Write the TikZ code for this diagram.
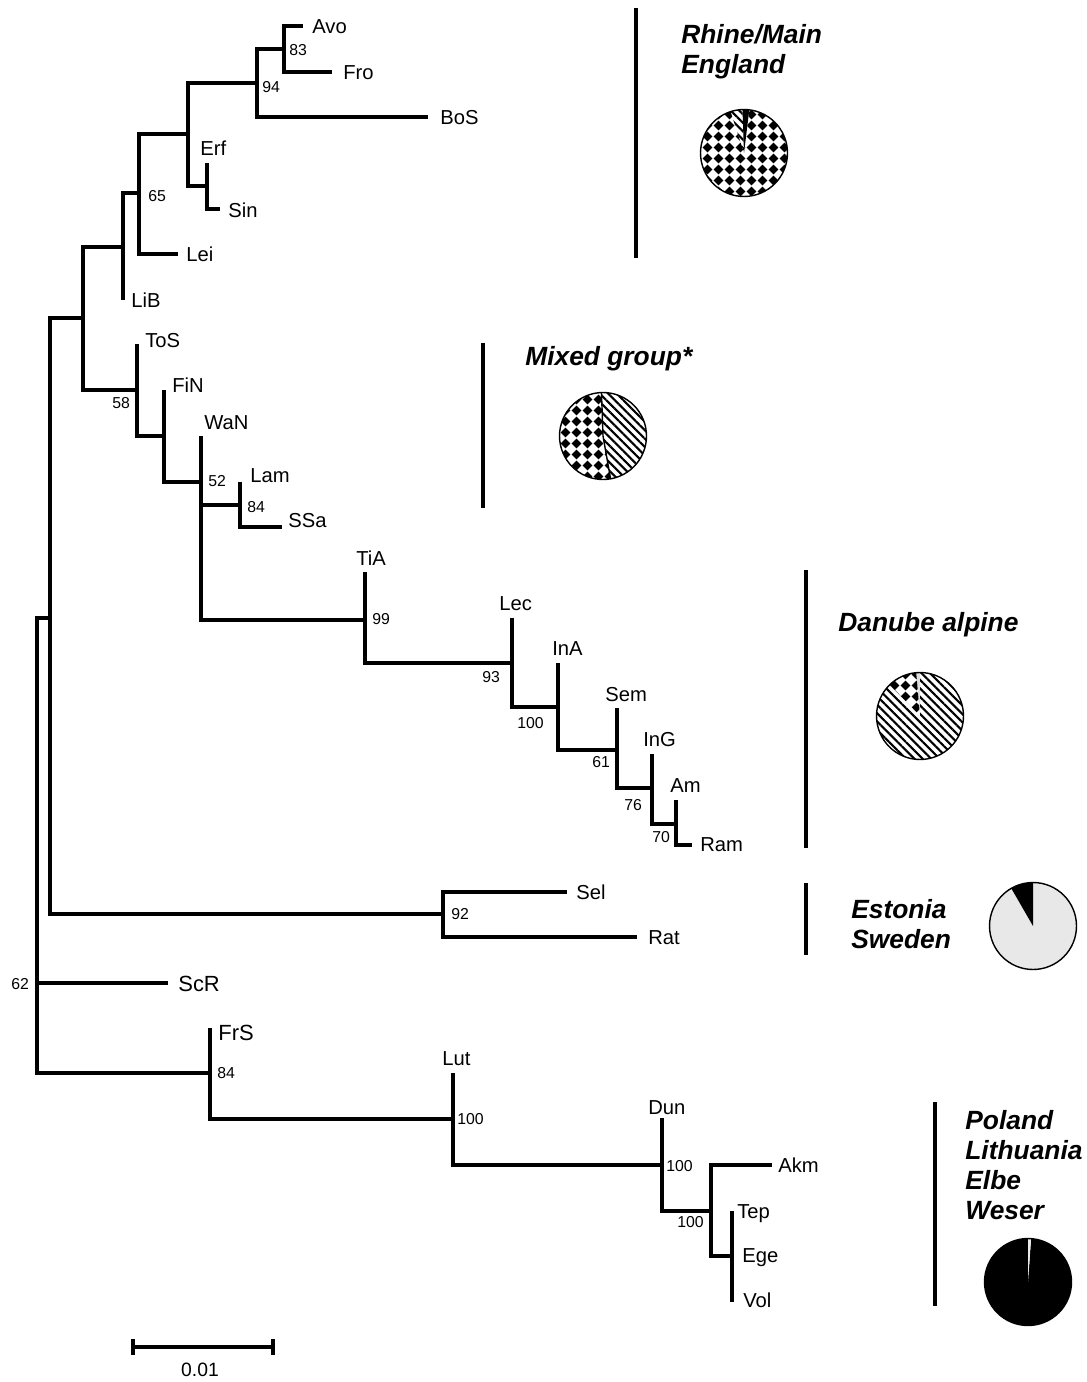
\documentclass[tikz,border=0pt]{standalone}
\usepackage{fontspec}
\setmainfont{Liberation Sans}
\usetikzlibrary{patterns,patterns.meta}
\pgfdeclarepatternformonly{diamonds}{\pgfqpoint{0pt}{0pt}}{\pgfqpoint{6.25pt}{6.25pt}}{\pgfqpoint{6.25pt}{6.25pt}}{%
  \pgfpathmoveto{\pgfqpoint{3.125pt}{0.3pt}}%
  \pgfpathlineto{\pgfqpoint{5.95pt}{3.125pt}}%
  \pgfpathlineto{\pgfqpoint{3.125pt}{5.95pt}}%
  \pgfpathlineto{\pgfqpoint{0.3pt}{3.125pt}}%
  \pgfpathclose\pgfusepathqfill}
\newcommand{\pieslice}[4]{\fill[#4] (#1) -- ++(#2:0.87cm) arc[start angle=#2, end angle=#3, radius=0.87cm] -- cycle;}
\begin{document}
\begin{tikzpicture}[x=0.02cm, y=0.02cm, line join=miter,
  tree/.style={line width=1.8pt},
  bar/.style={line width=2.6pt},
  pieline/.style={line width=0.8pt},
  taxon/.style={anchor=west, inner sep=0pt, text height=8.2pt, text depth=0pt, font=\fontsize{11.5}{13}\selectfont},
  bigtaxon/.style={taxon, text height=9pt, font=\fontsize{12.5}{14}\selectfont},
  boot/.style={anchor=west, inner sep=0pt, text height=6.4pt, text depth=0pt, font=\fontsize{9}{10}\selectfont},
  group/.style={anchor=west, inner sep=0pt, align=left, font=\fontsize{15}{17}\selectfont\bfseries\itshape},
  chk/.style={pattern=diamonds},
  hat/.style={pattern={Lines[angle=-45, distance=3.4pt, line width=1.2pt]}}]
\useasboundingbox (0,0) rectangle (1087,-1382);
% tips
\path (303,-26) coordinate (Avo) (332,-72) coordinate (Fro) (428,-117) coordinate (BoS)
      (207,-163) coordinate (Erf) (220,-209) coordinate (Sin) (178,-254) coordinate (Lei)
      (123,-300) coordinate (LiB) (137,-344) coordinate (ToS) (164,-390) coordinate (FiN)
      (201,-436) coordinate (WaN) (240,-482) coordinate (Lam) (282,-527) coordinate (SSa)
      (365,-572) coordinate (TiA) (512,-618) coordinate (Lec) (558,-663) coordinate (InA)
      (617,-708) coordinate (Sem) (652,-754) coordinate (InG) (676,-800) coordinate (Am)
      (692,-845) coordinate (Ram) (567,-892) coordinate (Sel) (637,-937) coordinate (Rat)
      (168,-983) coordinate (ScR) (210,-1028) coordinate (FrS) (453,-1073) coordinate (Lut)
      (662,-1118) coordinate (Dun) (772,-1165) coordinate (Akm) (732,-1211) coordinate (Tep)
      (732,-1256) coordinate (Ege) (732,-1302) coordinate (Vol);
% inner nodes
\path (284,-49) coordinate (nAF) (257,-83) coordinate (n94) (207,-186) coordinate (nES)
      (188,-134) coordinate (nA) (139,-193) coordinate (n65) (123,-247) coordinate (nB)
      (83,-318) coordinate (nC) (137,-390) coordinate (n58) (164,-436) coordinate (nF)
      (201,-482) coordinate (n52) (240,-505) coordinate (n84a) (365,-620) coordinate (n99)
      (512,-663) coordinate (n93) (558,-707) coordinate (n100a) (617,-750) coordinate (n61)
      (652,-788) coordinate (n76) (676,-824) coordinate (n70) (50,-618) coordinate (nD)
      (443,-914) coordinate (n92) (37,-983) coordinate (root) (210,-1073) coordinate (n84b)
      (453,-1119) coordinate (n100b) (662,-1165) coordinate (n100c) (711,-1211) coordinate (n100d)
      (732,-1256) coordinate (nTEV);
\foreach \p/\c in {nAF/Avo,nAF/Fro,n94/nAF,n94/BoS,nES/Erf,nES/Sin,nA/n94,nA/nES,n65/nA,n65/Lei,
  nB/n65,nB/LiB,nC/nB,nC/n58,n58/ToS,n58/nF,nF/FiN,nF/n52,n52/WaN,n52/n84a,n52/n99,n84a/Lam,n84a/SSa,
  n99/TiA,n99/n93,n93/Lec,n93/n100a,n100a/InA,n100a/n61,n61/Sem,n61/n76,n76/InG,n76/n70,n70/Am,n70/Ram,
  nD/nC,nD/n92,n92/Sel,n92/Rat,root/nD,root/ScR,root/n84b,n84b/FrS,n84b/n100b,n100b/Lut,n100b/n100c,
  n100c/Dun,n100c/n100d,n100d/Akm,n100d/nTEV,nTEV/Tep,nTEV/Vol}
  \draw[tree] (\p) |- (\c);
% taxon labels
\foreach \t/\x/\y in {Avo/312/26,Fro/343/72,BoS/440/117,Erf/200/148,Sin/228/210,Lei/186/254,
  LiB/131/300,ToS/145/340,FiN/172/385,WaN/204/422,Lam/250/475,SSa/288/520,TiA/356/558,Lec/499/603,
  InA/552/648,Sem/605/694,InG/643/739,Am/670/785,Ram/700/844,Sel/576/892,Rat/648/937,Lut/442/1058,
  Dun/648/1107,Akm/778/1165,Tep/737/1211,Ege/742/1255,Vol/743/1300}
  \node[taxon] (l\t) at (\x,-\y) {\t};
\node[bigtaxon] (lScR) at (178,-984) {ScR};
\node[bigtaxon] (lFrS) at (218,-1033) {FrS};
% bootstrap values
\foreach \v/\x/\y [count=\i] in {83/289/50,94/262/87,65/148/196,58/112/403,52/208/481,84/247/507,
  99/372/619,93/482/677,100/517/723,61/592/762,76/624/805,70/652/837,92/451/914,62/11/984,
  84/217/1073,100/457/1119,100/666/1166,100/677/1222}
  \node[boot] (b\i) at (\x,-\y) {\v};
% scale bar
\coordinate (sbL) at (133,-1347);
\coordinate (sbR) at (273,-1347);
\draw[tree] (sbL) -- (sbR) (sbL) ++(0,8) -- ++(0,-16) (sbR) ++(0,8) -- ++(0,-16);
\node[font=\fontsize{11}{12}\selectfont] (scale) at (200,-1370) {0.01};
% groups
\draw[bar] (636,-8) -- (636,-258);
\draw[bar] (483,-343) -- (483,-508);
\draw[bar] (806,-570) -- (806,-848);
\draw[bar] (806,-883) -- (806,-955);
\draw[bar] (935,-1102) -- (935,-1306);
\node[group] (gRh) at (681,-52) {Rhine/Main\\England};
\node[group] (gMx) at (525,-359) {Mixed group*};
\node[group] (gDa) at (838,-625) {Danube alpine};
\node[group] (gEs) at (851,-924) {Estonia\\Sweden};
\node[group] (gPl) at (965,-1165) {Poland\\Lithuania\\Elbe\\Weser};
% pies
\coordinate (pRh) at (744,-153);
\pieslice{pRh}{108}{443}{chk}
\pieslice{pRh}{92}{108}{hat}
\pieslice{pRh}{83}{92}{black}
\draw[pieline] (pRh) circle[radius=0.87cm];
\coordinate (pMx) at (603,-436);
\pieslice{pMx}{92}{280}{chk}
\pieslice{pMx}{280}{452}{hat}
\draw[pieline] (pMx) circle[radius=0.87cm] (pMx) -- ++(92:0.87cm) (pMx) -- ++(280:0.87cm);
\coordinate (pDa) at (920,-716);
\pieslice{pDa}{90}{95}{gray!25}
\pieslice{pDa}{95}{134}{chk}
\pieslice{pDa}{134}{450}{hat}
\draw[pieline] (pDa) circle[radius=0.87cm];
\coordinate (pEs) at (1033,-926);
\pieslice{pEs}{120}{450}{gray!18}
\pieslice{pEs}{90}{120}{black}
\draw[pieline] (pEs) circle[radius=0.87cm];
\coordinate (pPl) at (1028,-1282);
\pieslice{pPl}{90}{446}{black}
\pieslice{pPl}{86}{90}{gray!15}
\draw[pieline] (pPl) circle[radius=0.87cm];
\end{tikzpicture}
\end{document}
